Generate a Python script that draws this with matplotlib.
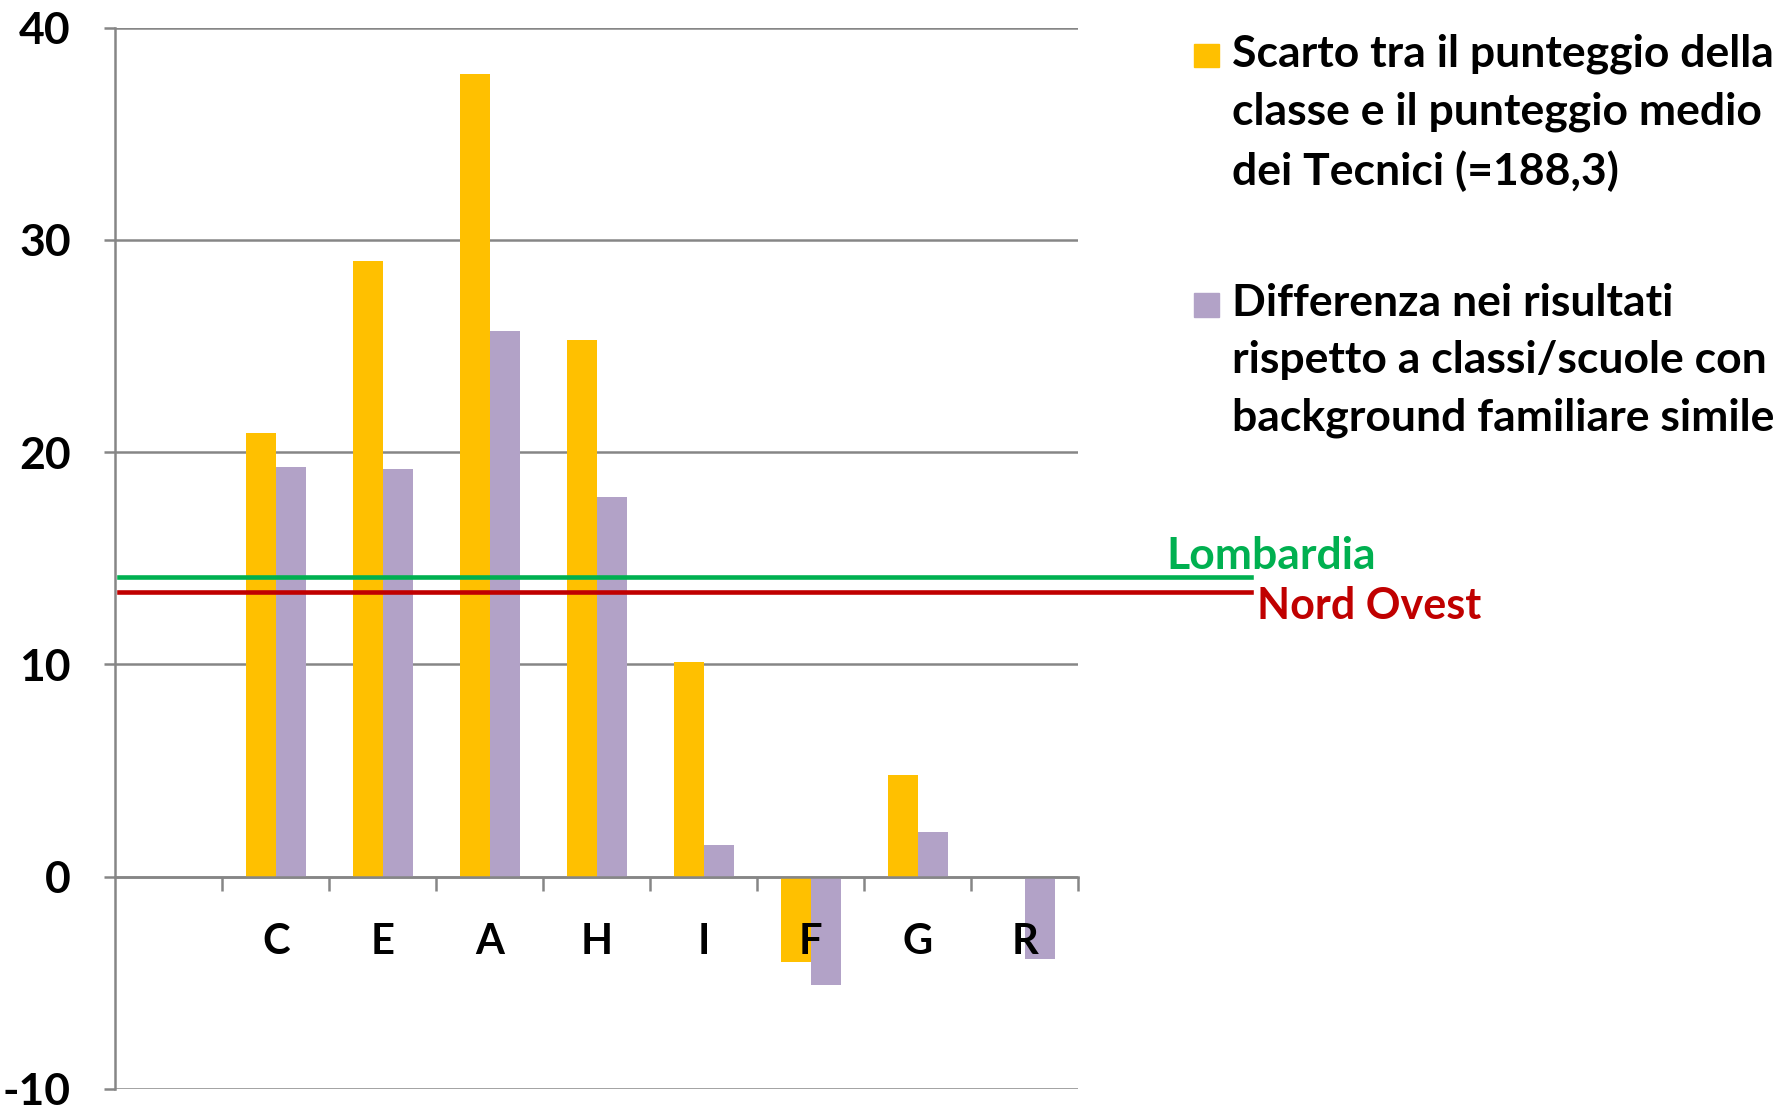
import matplotlib.pyplot as plt
from matplotlib.patches import Rectangle
import numpy as np

# dati
categorie = ['', 'C', 'E', 'A', 'H', 'I', 'F', 'G', 'R']
scarto = [np.nan, 20.9, 29.0, 37.8, 25.3, 10.1, -4.0, 4.8, np.nan]
differenza = [np.nan, 19.3, 19.2, 25.7, 17.9, 1.5, -5.1, 2.1, -3.9]
lombardia = 14.1
nord_ovest = 13.4

etichetta1 = 'Scarto tra il punteggio della\nclasse e il punteggio medio\ndei Tecnici (=188,3)'
etichetta2 = 'Differenza nei risultati\nrispetto a classi/scuole con\nbackground familiare simile'

arancio = '#FFC000'
viola = '#B2A2C7'
verde = '#00B050'
rosso = '#C00000'
grigio = '#868686'

plt.rcParams['font.family'] = ['Lato', 'DejaVu Sans']
plt.rcParams['font.weight'] = 'bold'
plt.rcParams['axes.unicode_minus'] = False

fig = plt.figure(figsize=(17.88, 11.05), dpi=100)
ax = fig.add_axes([0.0645, 0.0145, 0.5385, 0.9605])

x = np.arange(len(categorie))
w = 0.28
ax.bar(x - w / 2, scarto, w, color=arancio, zorder=1)
ax.bar(x + w / 2, differenza, w, color=viola, zorder=1)

ax.set_xlim(-0.5, len(categorie) - 0.5)
ax.set_ylim(-10, 40)
yt = list(range(-10, 41, 10))
ax.set_yticks(yt)
# griglia sotto le barre, etichette sopra
for v in yt:
    ax.axhline(v, color=grigio, linewidth=1.8, zorder=0.5)

# assi
for s in ['top', 'right']:
    ax.spines[s].set_visible(False)
ax.spines['bottom'].set_position(('data', 0))
ax.spines['bottom'].set_color(grigio)
ax.spines['bottom'].set_linewidth(1.8)
ax.spines['left'].set_color(grigio)
ax.spines['left'].set_linewidth(1.8)

ax.set_xticks(x + 0.5)
ax.set_xticklabels([])
ax.set_xticks(x[1:], minor=True)
ax.set_xticklabels(categorie[1:], minor=True)
ax.tick_params(axis='x', which='major', length=10, width=1.8, color=grigio, direction='out')
ax.tick_params(axis='x', which='minor', length=0, pad=33, labelsize=30)
ax.tick_params(axis='y', length=8, width=1.8, color=grigio, pad=24, labelsize=32)

# linee di riferimento
xfine = 10.12
ax.plot([-0.47, xfine], [lombardia, lombardia], color=verde, linewidth=3.3, clip_on=False, zorder=5)
ax.plot([-0.47, xfine], [nord_ovest, nord_ovest], color=rosso, linewidth=3.3, clip_on=False, zorder=5)
ax.text(9.32, lombardia + 1.0, 'Lombardia', color=verde, fontsize=32, va='center', ha='left')
ax.text(10.17, nord_ovest - 0.65, 'Nord Ovest', color=rosso, fontsize=31, va='center', ha='left')

# legenda
for yy, col, lab in [(0.9495, arancio, etichetta1), (0.7235, viola, etichetta2)]:
    fig.patches.append(Rectangle((0.668, yy - 0.0105), 0.0135, 0.0215, color=col,
                                 transform=fig.transFigure, figure=fig))
    fig.text(0.689, yy + 0.0205, lab, fontsize=32, va='top', ha='left', linespacing=1.53)

fig.savefig('out.png', dpi=100)
